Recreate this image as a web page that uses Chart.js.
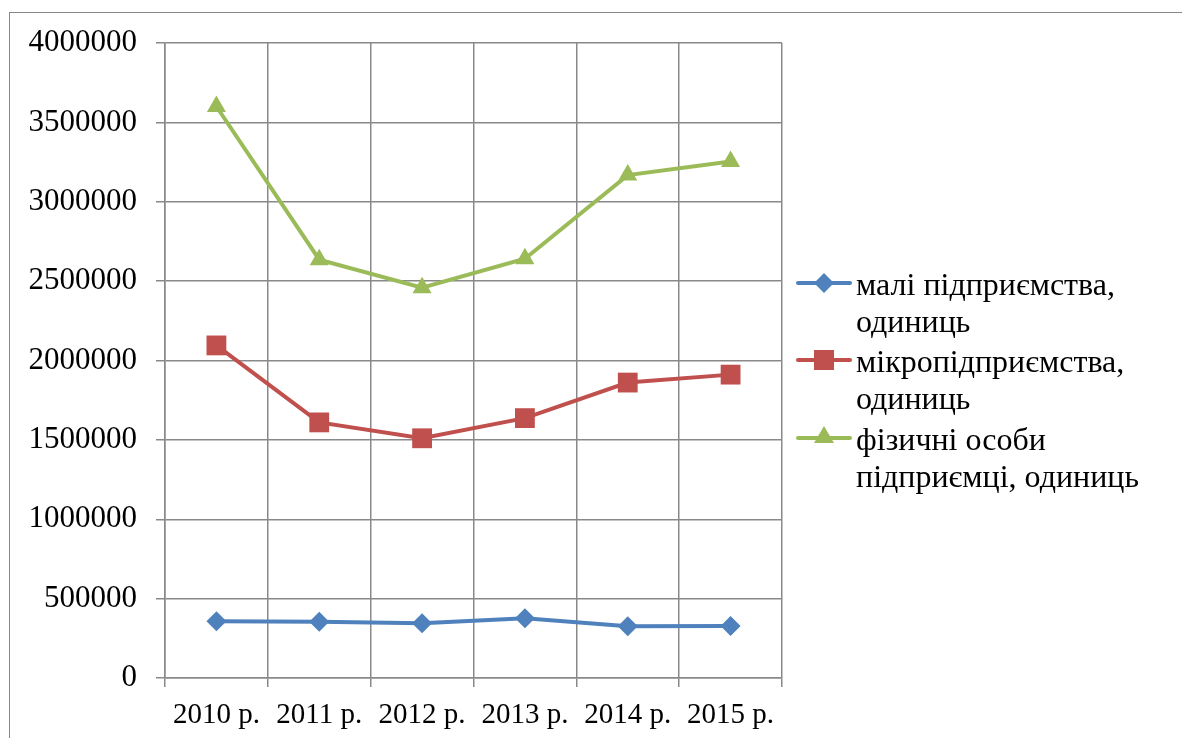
<!DOCTYPE html>
<html>
<head>
<meta charset="utf-8">
<script src="https://cdn.jsdelivr.net/npm/chart.js@4.4.1/dist/chart.umd.min.js"></script>
<style>
  html, body { margin: 0; padding: 0; background: #fff; overflow: hidden; }
  body { width: 1182px; height: 738px; position: relative; font-family: 'Liberation Serif', serif; }
  #frame { position: absolute; left: 9px; top: 12px; width: 2000px; height: 2000px; border: 1px solid #878787; }
  #wrap { position: absolute; left: 0; top: 0; width: 1182px; height: 738px; }
  .leg { position: absolute; left: 796px; font-family: 'Liberation Serif', serif; font-size: 32px; line-height: 37px; color: #000; }
  .leg .mk { position: absolute; left: 0; top: 17px; width: 56px; height: 0; }
  .leg .mk i { position: absolute; left: 0; top: -2px; width: 56px; height: 4px; border-radius: 2px; }
  .leg .mk b { position: absolute; }
  .leg span { display: block; margin-left: 60px; white-space: nowrap; }
</style>
</head>
<body>
<div id="frame"></div>
<div id="wrap"><canvas id="c" width="1182" height="738"></canvas></div>
<div id="legend"></div>
<script>
const years = ['2010 р.', '2011 р.', '2012 р.', '2013 р.', '2014 р.', '2015 р.'];

const mali     = [357000, 355000, 345000, 376000, 326000, 328000];
const mikro    = [2095000, 1610000, 1510000, 1637000, 1861000, 1911000];
const fizychni = [3600000, 2635000, 2458000, 2641000, 3168000, 3253000];

const seriesNames = [
  ['малі підприємства,', 'одиниць'],
  ['мікропідприємства,', 'одиниць'],
  ['фізичні особи', 'підприємці, одиниць']
];

const yTicks = [0, 500000, 1000000, 1500000, 2000000, 2500000, 3000000, 3500000, 4000000];

const BLUE = '#4F81BD', RED = '#C0504D', GREEN = '#9BBB59';
const FONT = "'Liberation Serif', serif";
const GRID = '#898989';

Chart.defaults.font.family = FONT;

const ds = (label, data, color, style, r) => ({
  label, data,
  borderColor: color, backgroundColor: color,
  borderWidth: 4, tension: 0,
  pointStyle: style, pointRadius: r, pointHoverRadius: r,
  pointBorderWidth: 0, pointBackgroundColor: color
});

function draw() {
  new Chart(document.getElementById('c'), {
    type: 'line',
    data: {
      labels: years,
      datasets: [
        ds(seriesNames[0].join(' '), mali, BLUE, 'rectRot', 10),
        ds(seriesNames[1].join(' '), mikro, RED, 'rect', 14),
        ds(seriesNames[2].join(' '), fizychni, GREEN, 'triangle', 11)
      ]
    },
    options: {
      responsive: false, animation: false,
      layout: { padding: { left: 0, right: 400, top: 43, bottom: 0 } },
      plugins: { legend: { display: false }, tooltip: { enabled: false } },
      scales: {
        x: {
          offset: true,
          grid: { offset: true, color: GRID, lineWidth: 1.5, tickLength: 9, drawTicks: true },
          border: { color: GRID, width: 1.5 },
          ticks: { color: '#000', font: { family: FONT, size: 29 }, padding: 11, maxRotation: 0, autoSkip: false },
          afterFit: s => { s.height = 60; }
        },
        y: {
          min: 0, max: 4000000,
          afterBuildTicks: s => { s.ticks = yTicks.map(v => ({ value: v })); },
          grid: { color: GRID, lineWidth: 1.5, tickLength: 9 },
          border: { color: GRID, width: 1.5 },
          ticks: { color: '#000', font: { family: FONT, size: 31 }, padding: 19, callback: v => String(v) },
          afterFit: s => { s.width = 165; }
        }
      }
    }
  });
}

// legend as html text
const colors = [BLUE, RED, GREEN];
const tops = [266, 343, 421];
const marker = i => {
  if (i === 0) return `<b style="width:14px;height:14px;background:${BLUE};transform:rotate(45deg);left:21px;top:-7px"></b>`;
  if (i === 1) return `<b style="left:18px;top:-10px;width:20px;height:20px;background:${RED}"></b>`;
  return `<b style="left:18px;top:-12px;width:0;height:0;border-left:10px solid transparent;border-right:10px solid transparent;border-bottom:17px solid ${GREEN}"></b>`;
};
document.getElementById('legend').innerHTML = seriesNames.map((lines, i) =>
  `<div class="leg" style="top:${tops[i]}px"><div class="mk"><i style="background:${colors[i]}"></i>${marker(i)}</div>` +
  lines.map(t => `<span>${t}</span>`).join('') + `</div>`
).join('');

if (document.fonts && document.fonts.load) {
  document.fonts.load("30px 'Liberation Serif'").then(draw, draw);
} else {
  draw();
}
</script>
</body>
</html>
